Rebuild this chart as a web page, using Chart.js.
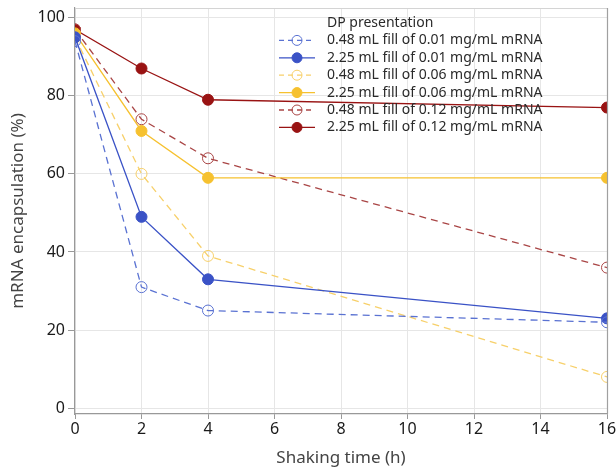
<!DOCTYPE html>
<html>
<head>
<meta charset="utf-8">
<script src="https://cdn.jsdelivr.net/npm/chart.js@4"></script>
<style>
  html, body { margin: 0; padding: 0; background: #fff; }
  #wrap { width: 616px; height: 468px; }
</style>
</head>
<body>
<div id="wrap"><canvas id="myChart" width="616" height="468"></canvas></div>
<script>
// shaking time points (h)
const hours = [0, 2, 4, 16];
const yTicks = [0, 20, 40, 60, 80, 100];
const xTicks = [0, 2, 4, 6, 8, 10, 12, 14, 16];

const legendTitle = "DP presentation";
const seriesNames = [
  "0.48 mL fill of 0.01 mg/mL mRNA",
  "2.25 mL fill of 0.01 mg/mL mRNA",
  "0.48 mL fill of 0.06 mg/mL mRNA",
  "2.25 mL fill of 0.06 mg/mL mRNA",
  "0.48 mL fill of 0.12 mg/mL mRNA",
  "2.25 mL fill of 0.12 mg/mL mRNA",
];

// encapsulation (%) per presentation
const small001 = [94, 31, 25, 22];
const large001 = [95, 49, 33, 23];
const small006 = [95, 60, 39, 8];
const large006 = [96, 71, 59, 59];
const small012 = [97, 74, 64, 36];
const large012 = [97, 87, 79, 77];

const FONT = "'Noto Sans', 'Open Sans', sans-serif";

function makeSet(label, values, color, dashed) {
  return {
    label: label,
    data: values.map((v, i) => ({ x: hours[i], y: v })),
    borderColor: color,
    backgroundColor: color,
    borderWidth: 1.3,
    borderDash: dashed ? [7, 5] : [],
    pointRadius: 5.5,
    pointHoverRadius: 5.5,
    pointBorderWidth: 1,
    pointBorderColor: color,
    pointBackgroundColor: dashed ? "rgba(0,0,0,0)" : color,
    tension: 0,
    clip: { left: 0, right: 0, top: 8, bottom: 8 },
  };
}

const datasets = [
  makeSet(seriesNames[0], small001, "#5a72d2", true),
  makeSet(seriesNames[1], large001, "#3a52c6", false),
  makeSet(seriesNames[2], small006, "#f7d06a", true),
  makeSet(seriesNames[3], large006, "#f6c12f", false),
  makeSet(seriesNames[4], small012, "#a94545", true),
  makeSet(seriesNames[5], large012, "#991313", false),
];

// frame round the plot + legend inside the plot area
const framePlugin = {
  id: "frame",
  beforeDatasetsDraw(chart) {
    const { ctx, chartArea: a } = chart;
    ctx.save();
    ctx.strokeStyle = "#d4d4d4";
    ctx.lineWidth = 1;
    ctx.beginPath();
    ctx.moveTo(a.left, a.top + 0.5);
    ctx.lineTo(a.right, a.top + 0.5);
    ctx.stroke();
    ctx.restore();
  },
  afterDatasetsDraw(chart) {
    const { ctx, chartArea: a } = chart;
    // right edge drawn over the clipped end markers
    ctx.save();
    ctx.strokeStyle = "#a0a0a0";
    ctx.lineWidth = 1.2;
    ctx.beginPath();
    ctx.moveTo(a.right + 0.5, a.top);
    ctx.lineTo(a.right + 0.5, a.bottom);
    ctx.stroke();

    const x0 = a.left + 204;
    const textX = x0 + 48;
    let y = a.top + 15;
    ctx.font = "14px " + FONT;
    ctx.fillStyle = "#2a2a2a";
    ctx.textBaseline = "middle";
    ctx.fillText(legendTitle, textX, y);
    chart.data.datasets.forEach((ds) => {
      y += 17.4;
      ctx.strokeStyle = ds.borderColor;
      ctx.lineWidth = ds.borderWidth;
      ctx.setLineDash(ds.borderDash.length ? [5, 4] : []);
      ctx.beginPath();
      ctx.moveTo(x0, y);
      ctx.lineTo(x0 + 36, y);
      ctx.stroke();
      ctx.setLineDash([]);
      ctx.beginPath();
      ctx.arc(x0 + 18, y, 5, 0, Math.PI * 2);
      ctx.fillStyle = ds.pointBackgroundColor;
      ctx.fill();
      ctx.lineWidth = 1;
      ctx.stroke();
      ctx.fillStyle = "#2a2a2a";
      ctx.fillText(ds.label, textX, y);
    });
    ctx.restore();
  },
};

const ctx = document.getElementById("myChart").getContext("2d");
const chart = new Chart(ctx, {
  type: "line",
  data: { datasets: datasets },
  plugins: [framePlugin],
  options: {
    responsive: false,
    animation: false,
    events: [],
    layout: { padding: { top: 8, right: 9, left: 0, bottom: 0 } },
    plugins: {
      legend: { display: false },
      tooltip: { enabled: false },
    },
    scales: {
      x: {
        type: "linear",
        min: 0,
        max: 16,
        afterBuildTicks: (s) => { s.ticks = xTicks.map((v) => ({ value: v })); },
        afterFit: (s) => { s.height = 54; s.paddingLeft = 0; s.paddingRight = 0; },
        ticks: { color: "#1a1a1a", font: { family: FONT, size: 16 }, padding: 1, maxRotation: 0 },
        grid: { color: "#e6e6e6", tickColor: "#999", tickLength: 5 },
        border: { color: "#999", width: 1.2 },
        title: {
          display: true,
          text: "Shaking time (h)",
          color: "#444",
          font: { family: FONT, size: 17 },
          padding: { top: 0, bottom: 0 },
        },
      },
      y: {
        min: -1.5,
        max: 102.5,
        afterBuildTicks: (s) => { s.ticks = yTicks.map((v) => ({ value: v })); },
        afterFit: (s) => { s.width = 75; s.paddingTop = 0; s.paddingBottom = 0; },
        ticks: { color: "#1a1a1a", font: { family: FONT, size: 16 }, padding: 3 },
        grid: { color: "#e6e6e6", tickColor: "#999", tickLength: 7 },
        border: { color: "#999", width: 1.2 },
        title: {
          display: true,
          text: "mRNA encapsulation (%)",
          color: "#444",
          font: { family: FONT, size: 17 },
          padding: { top: 8, bottom: 4 },
        },
      },
    },
  },
});
</script>
</body>
</html>
